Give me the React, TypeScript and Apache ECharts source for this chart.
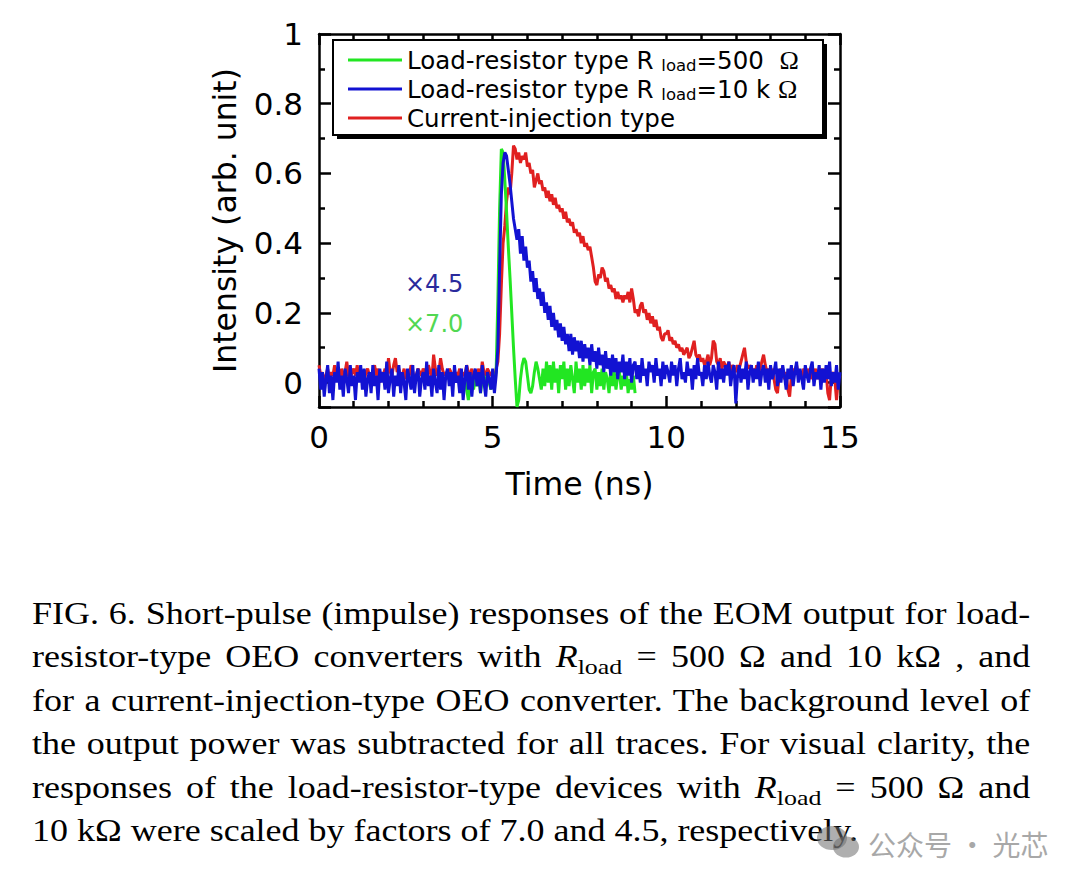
import React, { useEffect, useRef } from "react";
import * as echarts from "echarts";

// ---------- data ----------
const NAME_GREEN = "Load-resistor type R load=500 Ω";
const NAME_BLUE = "Load-resistor type R load=10 kΩ";
const NAME_RED = "Current-injection type";

const X_MIN = 0;
const X_MAX = 15;
const Y_MIN = -0.07;
const Y_MAX = 1;

// blue: 0.00 .. 15.00 ns, every 0.05 ns
const BLUE_T0 = 0;
const BLUE_DT = 0.05;
const blueValues = [
  0.04, -0.02, 0.03, -0.04, 0.01, 0.05, -0.03, 0.02, -0.05, 0.03,
  0.00, 0.06, -0.02, 0.02, -0.04, 0.04, 0.01, -0.03, 0.05, -0.01,
  0.02, -0.05, 0.03, 0.00, 0.05, -0.02, 0.04, -0.04, 0.01, 0.03,
  -0.03, 0.05, -0.01, 0.02, -0.05, 0.04, 0.00, 0.03, -0.02, 0.06,
  -0.03, 0.01, 0.04, -0.04, 0.02, -0.01, 0.05, -0.03, 0.03, 0.00,
  -0.05, 0.04, 0.01, -0.02, 0.05, -0.03, 0.02, 0.04, -0.04, 0.01,
  0.03, -0.02, 0.06, -0.01, 0.02, -0.04, 0.04, 0.00, -0.03, 0.05,
  -0.02, 0.03, -0.05, 0.02, 0.04, -0.01, 0.03, -0.04, 0.05, 0.00,
  0.02, -0.03, 0.04, -0.05, 0.01, 0.05, -0.02, 0.03, -0.04, 0.02,
  0.04, -0.01, 0.03, -0.03, 0.05, 0.00, -0.04, 0.03, 0.01, -0.02,
  0.04, -0.03, 0.02,
  0.10, 0.33, 0.54, 0.63, 0.66, 0.65, 0.61, 0.57, 0.52, 0.47,
  0.44, 0.41, 0.44, 0.37, 0.42, 0.35, 0.39, 0.33, 0.35, 0.29,
  0.32, 0.26, 0.30, 0.24, 0.27, 0.22, 0.26, 0.20, 0.23, 0.18,
  0.22, 0.16, 0.20, 0.15, 0.18, 0.13, 0.17, 0.12, 0.16, 0.11,
  0.14, 0.09, 0.14, 0.08, 0.13, 0.09, 0.12, 0.07, 0.12, 0.06,
  0.11, 0.07, 0.10, 0.05, 0.11, 0.06, 0.09, 0.04, 0.10, 0.05,
  0.08, 0.03, 0.09, 0.04, 0.07, 0.02, 0.08, 0.03, 0.07, 0.01,
  0.06, 0.03, 0.08, 0.01, 0.06, 0.02, 0.07, 0.00, 0.05,
  0.06, 0.01, 0.05, 0.00, 0.07, 0.02, 0.04, -0.01, 0.06, 0.03,
  0.05, 0.00, 0.07, 0.02, 0.04, -0.01, 0.06, 0.01, 0.05, 0.03,
  0.00, 0.06, 0.02, 0.05, -0.01, 0.04, 0.07, 0.01, 0.03, 0.00,
  0.06, 0.02, 0.04, -0.02, 0.05, 0.01, 0.07, 0.02, 0.03, -0.01,
  0.05, 0.01, 0.06, 0.02, 0.00, 0.05, 0.03, -0.02, 0.06, 0.01,
  0.04, 0.00, 0.05, 0.02, 0.06, -0.01, 0.03, 0.05, -0.06, 0.02,
  0.05, 0.00, 0.04, 0.01, 0.06, -0.02, 0.03, 0.05, 0.00, 0.04,
  0.01, 0.06, -0.01, 0.03, 0.05, 0.00, 0.04, -0.02, 0.05, 0.01,
  0.03, 0.06, -0.01, 0.04, 0.00, 0.05, 0.02, -0.02, 0.04, 0.01,
  0.05, -0.01, 0.03, 0.06, 0.00, 0.04, 0.01, -0.02, 0.05, 0.02,
  0.00, 0.04, 0.06, -0.01, 0.03, 0.01, 0.05, -0.02, 0.04, 0.00,
  0.05, 0.01, 0.06, -0.01, 0.03, 0.00, 0.05, -0.02, 0.03,
];

// green: 4.20 .. 9.10 ns, every 0.05 ns
const GREEN_T0 = 4.2;
const GREEN_DT = 0.05;
const greenValues = [
  0.01, -0.02, -0.05, -0.01, 0.02, -0.02, 0.01, -0.01, 0.02, -0.03,
  0.01, 0.02, -0.01, 0.02, 0.00, -0.02, 0.02, 0.01, 0.03, 0.24,
  0.50, 0.67, 0.66, 0.58, 0.49, 0.39, 0.30, 0.20, 0.10, 0.01,
  -0.07, -0.05, 0.01, 0.05, 0.07, 0.06, 0.02, -0.02, -0.03, -0.01,
  0.03, 0.06, 0.04, 0.01, -0.02, 0.04, -0.01, 0.06, 0.00, 0.05,
  -0.02, 0.06, 0.00, 0.04, -0.03, 0.05, 0.01, 0.06, -0.02, 0.04,
  -0.01, 0.05, 0.01, -0.03, 0.06, 0.00, 0.04, -0.02, 0.05, -0.01,
  0.04, 0.00, 0.05, -0.03, 0.03, 0.04, -0.02, 0.03, -0.01, 0.04,
  -0.02, 0.03, 0.01, -0.03, 0.04, -0.01, 0.03, -0.02, 0.02, 0.03,
  -0.02, 0.02, -0.01, 0.03, -0.03, 0.01, -0.02, 0.02, -0.03,
];

// red: 0.00 .. 15.00 ns, every 0.05 ns
const RED_T0 = 0;
const RED_DT = 0.05;
const redValues = [
  0.05, 0.02, 0.03, 0.00, 0.02, 0.04, 0.01, 0.03, 0.02, 0.05,
  0.01, 0.03, 0.00, 0.04, 0.02, 0.03, 0.06, 0.02, 0.01, 0.03,
  0.04, 0.02, 0.05, 0.01, 0.03, 0.02, 0.00, 0.03, 0.04, 0.02,
  0.01, 0.03, 0.05, 0.02, 0.04, 0.00, 0.03, 0.02, 0.04, 0.01,
  0.07, 0.03, 0.02, 0.05, 0.07, 0.03, 0.04, 0.01, 0.02, 0.04,
  0.01, 0.03, 0.02, 0.05, 0.03, 0.01, 0.02, 0.04, 0.03, 0.02,
  0.04, 0.03, 0.02, 0.05, 0.03, 0.01, 0.08, 0.04, 0.02, 0.03,
  0.07, 0.04, 0.02, 0.03, 0.01, 0.04, 0.03, 0.02, 0.00, 0.03,
  0.02, 0.04, 0.01, 0.03, 0.02, 0.05, 0.03, 0.02, 0.04, 0.01,
  0.03, 0.02, 0.04, 0.01, 0.06, 0.03, 0.02, 0.04, 0.03, 0.02,
  0.03, 0.01, 0.04,
  0.06, 0.14, 0.28, 0.40, 0.45, 0.52, 0.56, 0.54, 0.60, 0.68,
  0.67, 0.64, 0.66, 0.63, 0.65, 0.64, 0.66, 0.62, 0.63, 0.60,
  0.61, 0.56, 0.58, 0.60, 0.57, 0.58, 0.55, 0.56, 0.53, 0.55,
  0.52, 0.54, 0.51, 0.53, 0.50, 0.51, 0.49, 0.50, 0.47, 0.49,
  0.46, 0.47, 0.45, 0.46, 0.43, 0.44, 0.42, 0.43, 0.40, 0.42,
  0.39, 0.40, 0.38, 0.39, 0.36, 0.33, 0.29, 0.28, 0.31, 0.30,
  0.33, 0.32, 0.29, 0.30, 0.27, 0.28, 0.26, 0.27, 0.24, 0.26,
  0.24, 0.25, 0.23, 0.25, 0.24, 0.26, 0.23, 0.27, 0.24, 0.20,
  0.21, 0.19, 0.22, 0.23, 0.20, 0.21, 0.18, 0.20, 0.17, 0.19,
  0.16, 0.18, 0.15, 0.16, 0.13, 0.12, 0.14,
  0.14, 0.15, 0.12, 0.13, 0.11, 0.12, 0.10, 0.11, 0.09, 0.10,
  0.08, 0.09, 0.10, 0.07, 0.08, 0.10, 0.12, 0.08, 0.07, 0.08,
  0.06, 0.07, 0.05, 0.06, 0.08, 0.05, 0.07, 0.12, 0.11, 0.06,
  0.05, 0.07, 0.04, 0.06, 0.05, 0.04, 0.06, 0.03, 0.05, 0.04,
  0.03, 0.05, 0.04, 0.06, 0.08, 0.10, 0.06, 0.04, 0.05, 0.03,
  0.04, 0.02, 0.05, 0.03, 0.04, 0.06, 0.08, 0.05, 0.03, 0.04,
  0.02, 0.04, 0.01, -0.02, -0.03, 0.02, 0.04, 0.03, 0.01, 0.03,
  -0.02, -0.04, 0.02, 0.04, 0.03, 0.05, 0.02, 0.03, 0.01, 0.04,
  0.03, 0.02, 0.04, 0.01, 0.03, 0.02, 0.04, 0.01, 0.03, 0.02,
  0.04, 0.01, 0.03, -0.03, -0.05, 0.02, 0.03, 0.01, -0.05, 0.01,
  0.02,
];

const SCALE_LABELS = ["×4.5", "×7.0"];

const CAPTION_LINES: string[] = [
  "FIG. 6. Short-pulse (impulse) responses of the EOM output for load-",
  "R2",
  "for a current-injection-type OEO converter. The background level of",
  "the output power was subtracted for all traces. For visual clarity, the",
  "R5",
  "10 kΩ were scaled by factors of 7.0 and 4.5, respectively.",
];

const WATERMARK = "公众号 · 光芯";

// ---------- helpers ----------
function toPairs(t0: number, dt: number, vals: number[]) {
  return vals.map((v, i) => [Math.round((t0 + i * dt) * 1000) / 1000, v]);
}

const SANS = "DejaVu Sans";
const LINE_W = 3;

const RLoad = () => (
  <>
    <i>R</i>
    <span style={{ fontSize: "0.72em", verticalAlign: "-0.3em", lineHeight: 0 }}>load</span>
  </>
);

function Chart() {
  const ref = useRef<HTMLDivElement>(null);
  useEffect(() => {
    if (!ref.current) return;
    const chart = echarts.init(ref.current, undefined, { renderer: "svg" });
    const axisLine = { show: true, onZero: false, lineStyle: { color: "#000", width: 2.5 } };
    const legendRich: Record<string, string> = {
      [NAME_GREEN]: "Load-resistor type R {s|load}=500  {o|Ω}",
      [NAME_BLUE]: "Load-resistor type R {s|load}=10 k {o|Ω}",
      [NAME_RED]: "Current-injection type",
    };
    chart.setOption({
      animation: false,
      backgroundColor: "#ffffff",
      textStyle: { fontFamily: SANS },
      grid: { left: 319, top: 34, width: 521, height: 373, containLabel: false },
      xAxis: [
        {
          type: "value",
          min: X_MIN,
          max: X_MAX,
          interval: 5,
          position: "bottom",
          splitLine: { show: false },
          axisLine,
          axisTick: { show: true, inside: true, length: 11, lineStyle: { color: "#000", width: 2.5 } },
          minorTick: { show: true, splitNumber: 5, length: 6, lineStyle: { color: "#000", width: 2.5 } },
          axisLabel: { margin: 14, fontFamily: SANS, fontSize: 31, color: "#000" },
          name: "Time (ns)",
          nameLocation: "middle",
          nameGap: 61,
          nameTextStyle: { fontFamily: SANS, fontSize: 31.5, color: "#000" },
        },
        {
          type: "value",
          min: X_MIN,
          max: X_MAX,
          interval: 5,
          position: "top",
          splitLine: { show: false },
          axisLine,
          axisTick: { show: true, inside: true, length: 11, lineStyle: { color: "#000", width: 2.5 } },
          minorTick: { show: true, splitNumber: 5, length: 6, lineStyle: { color: "#000", width: 2.5 } },
          axisLabel: { show: false },
        },
      ],
      yAxis: [
        {
          type: "value",
          min: Y_MIN,
          max: Y_MAX,
          splitNumber: 5,
          position: "left",
          splitLine: { show: false },
          axisLine,
          axisTick: { show: true, inside: true, length: 12, lineStyle: { color: "#000", width: 2.5 } },
          minorTick: { show: true, splitNumber: 2, length: 6, lineStyle: { color: "#000", width: 2.5 } },
          axisLabel: {
            margin: 16,
            fontFamily: SANS,
            fontSize: 31,
            color: "#000",
            formatter: (v: number) => (v < -1e-9 ? "" : String(Math.round(v * 10) / 10)),
          },
          name: "Intensity (arb. unit)",
          nameLocation: "middle",
          nameGap: 78,
          nameRotate: 90,
          nameTextStyle: { fontFamily: SANS, fontSize: 31.5, color: "#000" },
        },
        {
          type: "value",
          min: Y_MIN,
          max: Y_MAX,
          splitNumber: 5,
          position: "right",
          splitLine: { show: false },
          axisLine,
          axisTick: { show: true, inside: true, length: 12, lineStyle: { color: "#000", width: 2.5 } },
          minorTick: { show: true, splitNumber: 2, length: 6, lineStyle: { color: "#000", width: 2.5 } },
          axisLabel: { show: false },
        },
      ],
      legend: {
        data: [NAME_GREEN, NAME_BLUE, NAME_RED],
        orient: "vertical",
        left: 348,
        top: 46,
        padding: 0,
        itemGap: 1,
        itemWidth: 54,
        itemHeight: 3,
        icon: "rect",
        selectedMode: false,
        formatter: (name: string) => legendRich[name] || name,
        textStyle: {
          fontFamily: SANS,
          fontSize: 24.5,
          color: "#000",
          lineHeight: 28,
          rich: {
            s: { fontFamily: SANS, fontSize: 16.5, color: "#000", lineHeight: 12, verticalAlign: "bottom" },
            o: { fontFamily: "Liberation Serif", fontSize: 26, color: "#000", lineHeight: 28 },
          },
        },
        z: 10,
      },
      graphic: [
        { type: "rect", z: 5, shape: { x: 337, y: 44, width: 490, height: 95 }, style: { fill: "#000" } },
        {
          type: "rect",
          z: 6,
          shape: { x: 333, y: 40, width: 490, height: 95 },
          style: { fill: "#fff", stroke: "#000", lineWidth: 2 },
        },
        {
          type: "text",
          z: 6,
          left: 405,
          top: 272,
          style: { text: SCALE_LABELS[0], fill: "#2a2a9c", font: `24px "${SANS}"` },
        },
        {
          type: "text",
          z: 6,
          left: 405,
          top: 312,
          style: { text: SCALE_LABELS[1], fill: "#52d852", font: `24px "${SANS}"` },
        },
      ],
      series: [
        {
          type: "line",
          name: NAME_RED,
          data: toPairs(RED_T0, RED_DT, redValues),
          showSymbol: false,
          symbol: "none",
          itemStyle: { color: "#e02020" },
          lineStyle: { color: "#e02020", width: LINE_W },
          z: 2,
        },
        {
          type: "line",
          name: NAME_GREEN,
          data: toPairs(GREEN_T0, GREEN_DT, greenValues),
          showSymbol: false,
          symbol: "none",
          itemStyle: { color: "#22e622" },
          lineStyle: { color: "#22e622", width: LINE_W },
          z: 3,
        },
        {
          type: "line",
          name: NAME_BLUE,
          data: toPairs(BLUE_T0, BLUE_DT, blueValues),
          showSymbol: false,
          symbol: "none",
          itemStyle: { color: "#1212d2" },
          lineStyle: { color: "#1212d2", width: LINE_W },
          z: 4,
        },
      ],
    });
    return () => chart.dispose();
  }, []);
  return (
    <div
      ref={ref}
      style={{ position: "absolute", left: 0, top: 0, width: 1080, height: 560 }}
    />
  );
}

export default function App() {
  const lineStyleJ: React.CSSProperties = {
    textAlign: "justify",
    textAlignLast: "justify",
    height: 43.5,
  };
  const renderLine = (l: string, i: number) => {
    let content: React.ReactNode = l;
    if (l === "R2")
      content = (
        <>
          resistor-type OEO converters with <RLoad /> = 500 Ω and 10 kΩ , and
        </>
      );
    if (l === "R5")
      content = (
        <>
          responses of the load-resistor-type devices with <RLoad /> = 500 Ω and
        </>
      );
    const last = i === CAPTION_LINES.length - 1;
    return (
      <div key={i} style={last ? { textAlign: "left", height: 43.5 } : lineStyleJ}>
        {content}
      </div>
    );
  };
  return (
    <div
      style={{
        position: "absolute",
        left: 0,
        top: 0,
        width: 1080,
        height: 879,
        background: "#fff",
        overflow: "hidden",
      }}
    >
      <Chart />
      <div
        style={{
          position: "absolute",
          left: 32,
          top: 592.5,
          width: 846,
          fontFamily: '"Liberation Serif", serif',
          fontSize: 30.5,
          lineHeight: "43.5px",
          color: "#000",
          transform: "scaleX(1.18)",
          transformOrigin: "left top",
        }}
      >
        {CAPTION_LINES.map(renderLine)}
      </div>
      <svg
        style={{ position: "absolute", left: 814, top: 824 }}
        width={48}
        height={36}
        viewBox="0 0 48 36"
      >
        <ellipse cx={18} cy={14} rx={15} ry={12} fill="rgba(110,110,110,0.55)" />
        <ellipse cx={32} cy={23} rx={13} ry={10.5} fill="rgba(110,110,110,0.55)" />
      </svg>
      <div
        style={{
          position: "absolute",
          left: 868,
          top: 826,
          fontFamily: '"Noto Sans CJK SC", sans-serif',
          fontSize: 28,
          lineHeight: "36px",
          color: "#a8a8a8",
          whiteSpace: "nowrap",
        }}
      >
        {WATERMARK}
      </div>
    </div>
  );
}
